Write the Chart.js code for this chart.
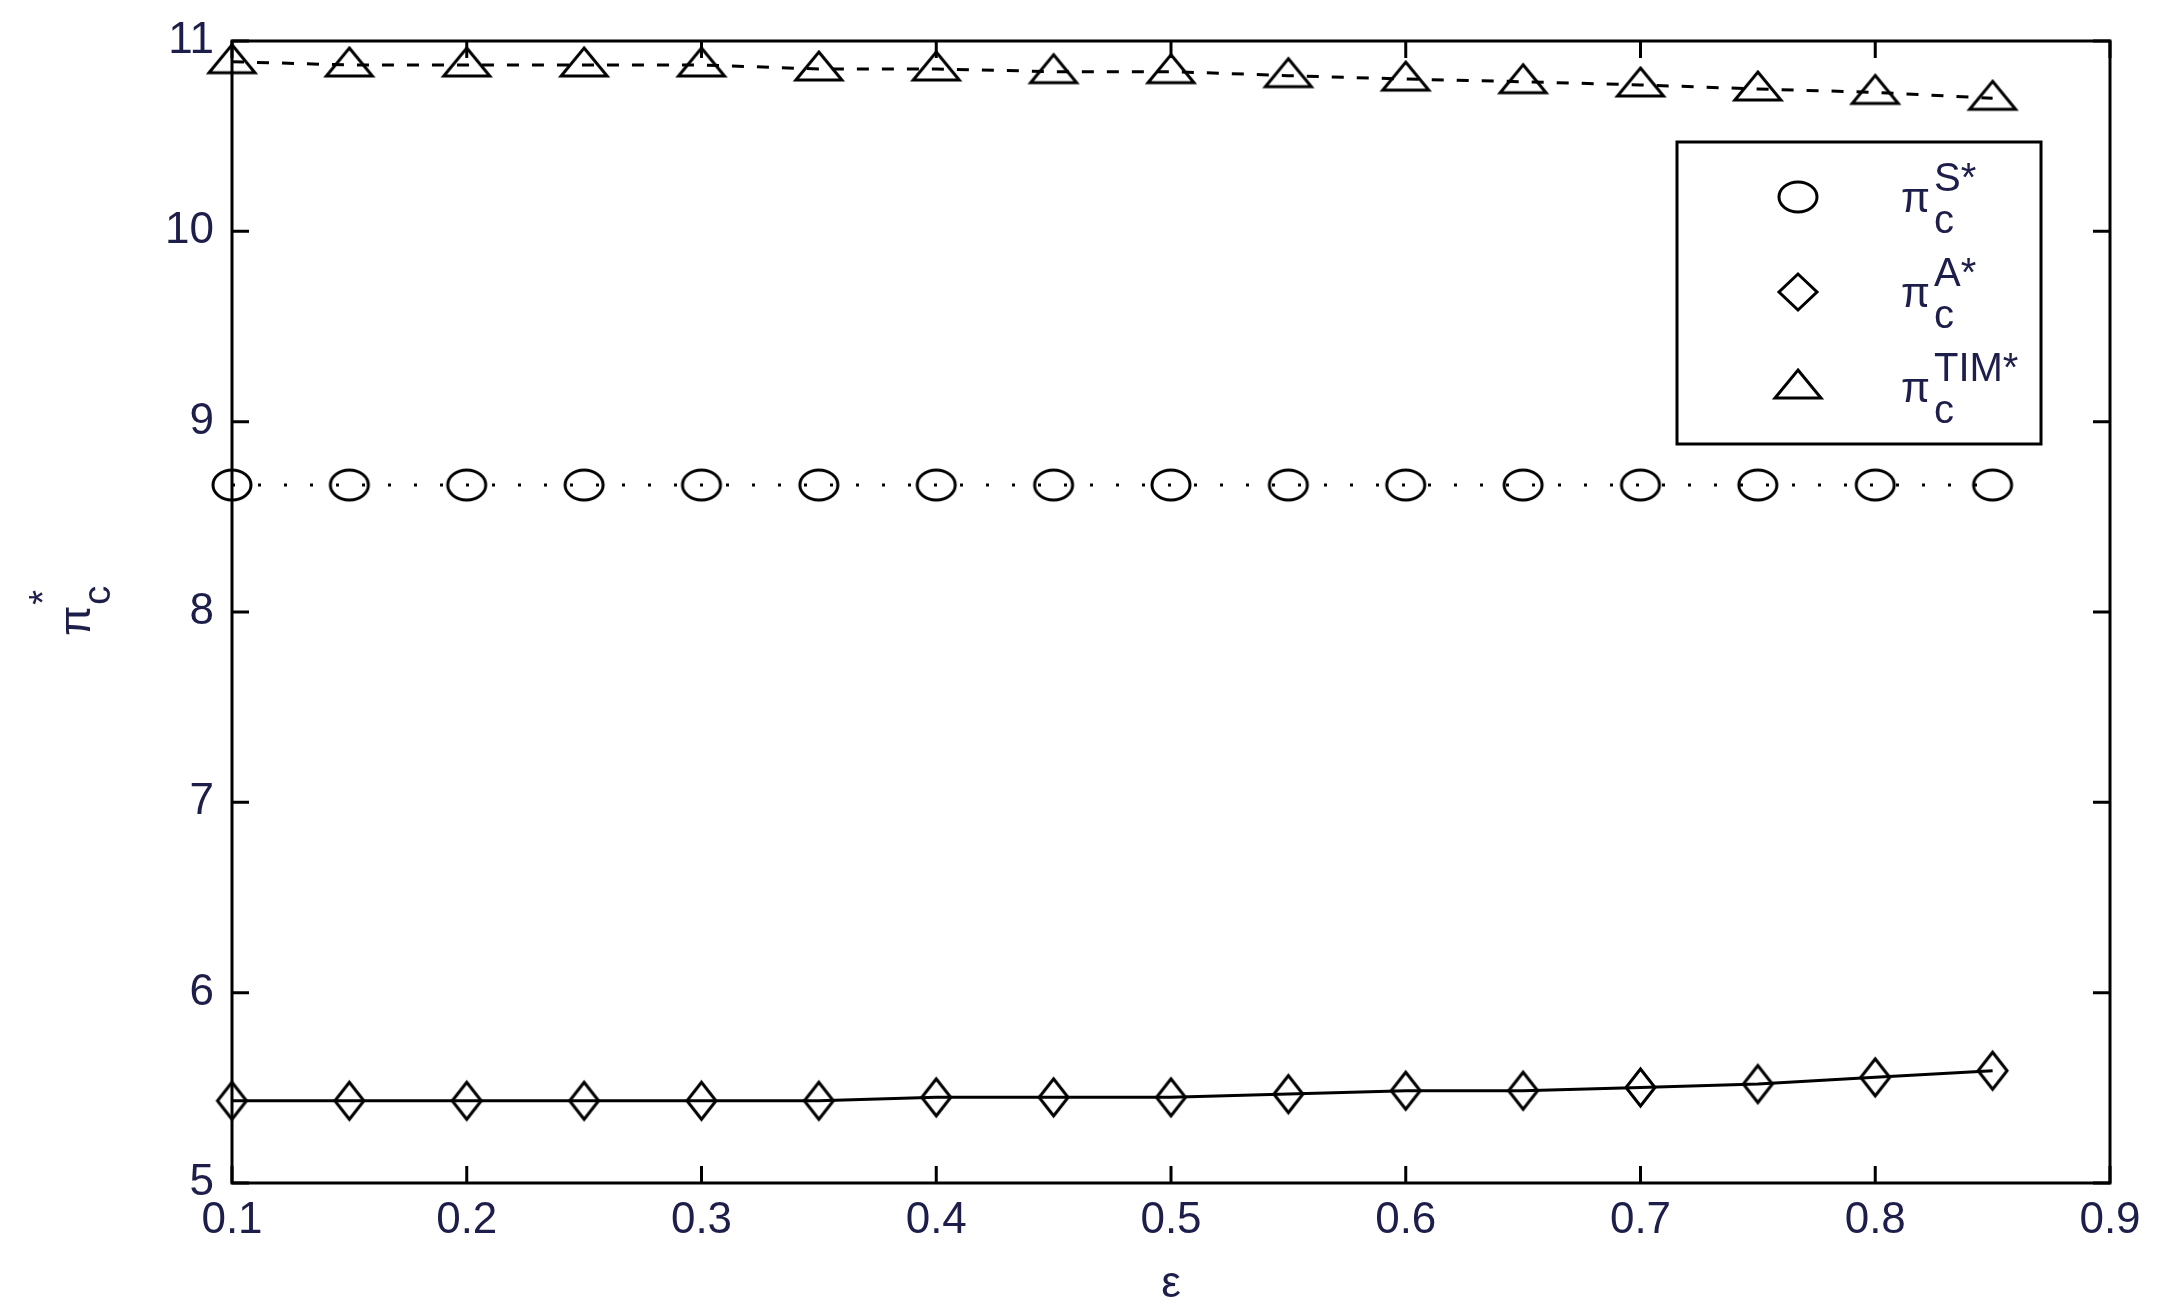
<!DOCTYPE html>
<html>
<head>
<meta charset="utf-8">
<script src="https://cdn.jsdelivr.net/npm/chart.js@4.4.0/dist/chart.umd.min.js"></script>
<style>
  html, body { margin: 0; padding: 0; background: #ffffff; }
  #c { display: block; }
</style>
</head>
<body>
<canvas id="c" width="2162" height="1311" style="width:2162px;height:1311px"></canvas>
<script>
// ---- data ----
const epsilon = [0.1, 0.15, 0.2, 0.25, 0.3, 0.35, 0.4, 0.45, 0.5, 0.55, 0.6, 0.65, 0.7, 0.75, 0.8, 0.85];
const piS   = [8.667, 8.667, 8.667, 8.667, 8.667, 8.667, 8.667, 8.667, 8.667, 8.667, 8.667, 8.667, 8.667, 8.667, 8.667, 8.667];
const piA   = [5.432, 5.432, 5.432, 5.432, 5.432, 5.432, 5.450, 5.450, 5.450, 5.467, 5.485, 5.485, 5.502, 5.520, 5.555, 5.590];
const piTIM = [10.891, 10.874, 10.874, 10.874, 10.874, 10.853, 10.853, 10.839, 10.839, 10.818, 10.800, 10.786, 10.769, 10.748, 10.730, 10.699];
const xTicks = [0.1, 0.2, 0.3, 0.4, 0.5, 0.6, 0.7, 0.8, 0.9];
const yTicks = [5, 6, 7, 8, 9, 10, 11];
const legendBase = 'π';
const legendSub = 'c';
const legendSups = ['S*', 'A*', 'TIM*'];
const xTitle = 'ε';
const yTitleBase = 'π';
const yTitleSub = 'c';
const yTitleSup = '*';

// ---- styles ----
const FONT = '"Liberation Sans", Arial, sans-serif';
const TEXT_COLOR = '#1e1e4a';

function makeMarker(shape, w, h, lw) {
  const c = document.createElement('canvas');
  let up = h / 2, down = h / 2;
  if (shape === 'triangle') { up = h - 11; down = 11; }
  const half = Math.max(up, down);
  c.width = Math.ceil(w + lw * 2 + 2);
  c.height = Math.ceil(2 * half + lw * 2 + 2);
  const g = c.getContext('2d');
  const cx = c.width / 2, cy = c.height / 2;
  g.strokeStyle = '#000';
  g.lineWidth = lw;
  g.beginPath();
  if (shape === 'circle') {
    g.ellipse(cx, cy, w / 2, h / 2, 0, 0, Math.PI * 2);
  } else if (shape === 'diamond') {
    g.moveTo(cx, cy - h / 2); g.lineTo(cx + w / 2, cy); g.lineTo(cx, cy + h / 2); g.lineTo(cx - w / 2, cy); g.closePath();
  } else {
    g.moveTo(cx, cy - up); g.lineTo(cx + w / 2, cy + down); g.lineTo(cx - w / 2, cy + down); g.closePath();
  }
  g.stroke();
  return c;
}
const mCircle = makeMarker('circle', 38, 30, 3);
const mDiamond = makeMarker('diamond', 29, 37, 3);
const mTriangle = makeMarker('triangle', 46, 28, 3);
const lgDiamond = makeMarker('diamond', 38, 36, 3);
const legendMarkers = [mCircle, lgDiamond, mTriangle];

const toXY = (ys) => epsilon.map((x, i) => ({ x: x, y: ys[i] }));

const framePlugin = {
  id: 'frame',
  afterDatasetsDraw(chart) {
    const { ctx, chartArea: a, scales } = chart;
    ctx.save();
    ctx.strokeStyle = '#000';
    ctx.lineWidth = 3;
    ctx.strokeRect(a.left, a.top, a.right - a.left, a.bottom - a.top);
    const tl = 17;
    ctx.beginPath();
    scales.x.ticks.forEach(t => {
      const px = scales.x.getPixelForValue(t.value);
      ctx.moveTo(px, a.bottom); ctx.lineTo(px, a.bottom - tl);
      ctx.moveTo(px, a.top); ctx.lineTo(px, a.top + tl);
    });
    scales.y.ticks.forEach(t => {
      const py = scales.y.getPixelForValue(t.value);
      ctx.moveTo(a.left, py); ctx.lineTo(a.left + tl, py);
      ctx.moveTo(a.right, py); ctx.lineTo(a.right - tl, py);
    });
    ctx.stroke();
    ctx.restore();
  },
  afterDraw(chart) {
    const { ctx, chartArea: a } = chart;
    // legend
    const bx = a.right - 69, bw = 364, by = a.top + 101, bh = 302;
    const left = bx - bw;
    ctx.save();
    ctx.fillStyle = '#fff';
    ctx.fillRect(left, by, bw, bh);
    ctx.strokeStyle = '#000';
    ctx.lineWidth = 3;
    ctx.strokeRect(left, by, bw, bh);
    legendSups.forEach((sup, i) => {
      const baseY = by + 70 + i * 95;
      const m = legendMarkers[i];
      ctx.drawImage(m, left + 121 - m.width / 2, baseY - 15 - m.height / 2);
      ctx.fillStyle = TEXT_COLOR;
      ctx.textBaseline = 'alphabetic';
      ctx.textAlign = 'left';
      ctx.font = '42px ' + FONT;
      const tx = left + 224;
      ctx.fillText(legendBase, tx, baseY);
      const w = ctx.measureText(legendBase).width;
      ctx.font = '40px ' + FONT;
      ctx.fillText(sup, tx + w + 4, baseY - 21);
      ctx.fillText(legendSub, tx + w + 4, baseY + 21);
    });
    ctx.restore();
    // y title
    ctx.save();
    ctx.translate(90, 636);
    ctx.rotate(-Math.PI / 2);
    ctx.fillStyle = TEXT_COLOR;
    ctx.textBaseline = 'alphabetic';
    ctx.textAlign = 'left';
    ctx.font = '44px ' + FONT;
    ctx.fillText(yTitleBase, 0, 0);
    const w2 = ctx.measureText(yTitleBase).width;
    ctx.font = '38px ' + FONT;
    ctx.fillText(yTitleSub, w2 + 1, 20);
    ctx.fillText(yTitleSup, w2 + 1, -34);
    ctx.restore();
  }
};

const tickFont = { family: FONT, size: 44 };

new Chart(document.getElementById('c'), {
  type: 'line',
  data: {
    datasets: [
      { label: 'S', data: toXY(piS), borderColor: '#000', borderWidth: 3, borderDash: [3, 23],
        pointStyle: mCircle, pointRadius: 16, clip: false, fill: false, tension: 0 },
      { label: 'A', data: toXY(piA), borderColor: '#000', borderWidth: 3,
        pointStyle: mDiamond, pointRadius: 16, clip: false, fill: false, tension: 0 },
      { label: 'TIM', data: toXY(piTIM), borderColor: '#000', borderWidth: 3, borderDash: [12, 13],
        pointStyle: mTriangle, pointRadius: 16, clip: false, fill: false, tension: 0 }
    ]
  },
  options: {
    responsive: false,
    animation: false,
    devicePixelRatio: 1,
    layout: { padding: { top: 41, right: 52, left: 0, bottom: 0 } },
    plugins: { legend: { display: false }, tooltip: { enabled: false }, title: { display: false } },
    scales: {
      x: {
        type: 'linear', min: 0.1, max: 0.9,
        afterBuildTicks: s => { s.ticks = xTicks.map(v => ({ value: v })); },
        afterFit: s => { s.height = 128; s.paddingLeft = 0; s.paddingRight = 0; },
        ticks: { callback: v => Number(v).toFixed(1), font: tickFont, color: TEXT_COLOR, padding: 11, maxRotation: 0, autoSkip: false },
        grid: { display: false, drawTicks: false },
        border: { display: false },
        title: { display: true, text: xTitle, font: tickFont, color: TEXT_COLOR, padding: { top: 0, bottom: 0 } }
      },
      y: {
        type: 'linear', min: 5, max: 11,
        afterBuildTicks: s => { s.ticks = yTicks.map(v => ({ value: v })); },
        afterFit: s => { s.width = 232; s.paddingTop = 0; s.paddingBottom = 0; },
        ticks: { callback: v => String(v), font: tickFont, color: TEXT_COLOR, padding: 18, autoSkip: false },
        grid: { display: false, drawTicks: false },
        border: { display: false }
      }
    }
  },
  plugins: [framePlugin]
});
</script>
</body>
</html>
